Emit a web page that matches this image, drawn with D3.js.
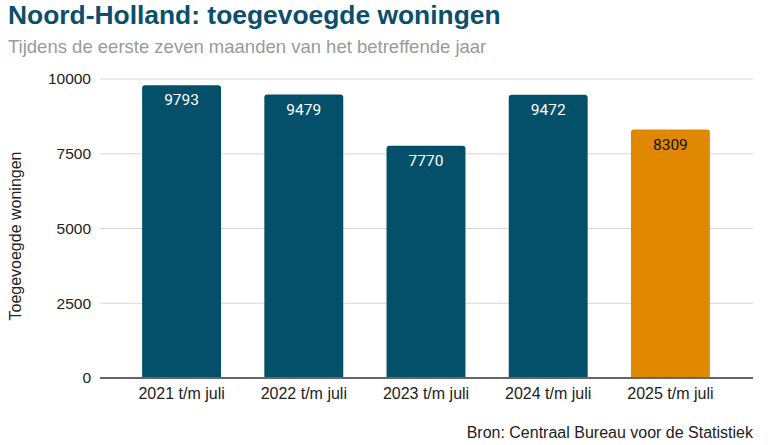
<!DOCTYPE html>
<html>
<head>
<meta charset="utf-8">
<title>Noord-Holland: toegevoegde woningen</title>
<script src="https://cdn.jsdelivr.net/npm/d3@7"></script>
<style>
	body, html{
		margin: 0;
		padding: 0;
		background: #fff;
		overflow: hidden;
	}
	svg text{
		font-family: 'Liberation Sans', Arial, sans-serif;
	}
	.title{
		font-size: 26.4px;
		font-weight: bold;
		fill: #0b4f6c;
	}
	.subtitle{
		font-size: 18.5px;
		fill: #9a9a9a;
	}
	.tick text{
		font-size: 15.5px;
		fill: #222;
	}
	.x-axis .tick text{
		font-size: 16px;
	}
	.value{
		font-family: Roboto, sans-serif !important;
		font-size: 15.5px;
	}
</style>
</head>
<body>
<svg id="chart" width="768" height="445"></svg>
<script>
var categories = ['2021 t/m juli', '2022 t/m juli', '2023 t/m juli', '2024 t/m juli', '2025 t/m juli'],
	values = [9793, 9479, 7770, 9472, 8309],
	barColors = ['#044f69', '#044f69', '#044f69', '#044f69', '#e08900'],
	labelColors = ['#fff', '#fff', '#fff', '#fff', '#111'],
	yTicks = [0, 2500, 5000, 7500, 10000];

var svg = d3.select('#chart'),
	plotLeft = 100,
	plotRight = 753,
	plotTop = 79,
	plotBottom = 378;

var x = d3.scaleBand()
	.domain(categories)
	.range([120.5, 731.5])
	.paddingInner(0.354)
	.paddingOuter(0.177);

var y = d3.scaleLinear()
	.domain([0, 10000])
	.range([plotBottom, plotTop]);

// gridlines
svg.append('g')
	.selectAll('line')
	.data(yTicks.slice(1))
	.enter().append('line')
	.attr('x1', plotLeft)
	.attr('x2', plotRight)
	.attr('y1', function(d){ return y(d); })
	.attr('y2', function(d){ return y(d); })
	.attr('stroke', '#d6d6d6')
	.attr('stroke-width', 1);

// y axis
var yAxis = svg.append('g')
	.attr('transform', 'translate(' + plotLeft + ',0)')
	.call(d3.axisLeft(y).tickValues(yTicks).tickFormat(d3.format('d')).tickSize(0).tickPadding(9));
yAxis.select('.domain').remove();

// bars, rounded top corners
function barPath(d, i){
	var x0 = x(categories[i]),
		w = x.bandwidth(),
		y0 = y(d),
		r = 3;
	return 'M' + x0 + ',' + plotBottom +
		'V' + (y0 + r) +
		'Q' + x0 + ',' + y0 + ' ' + (x0 + r) + ',' + y0 +
		'H' + (x0 + w - r) +
		'Q' + (x0 + w) + ',' + y0 + ' ' + (x0 + w) + ',' + (y0 + r) +
		'V' + plotBottom + 'Z';
}

svg.append('g')
	.selectAll('path')
	.data(values)
	.enter().append('path')
	.attr('d', barPath)
	.attr('fill', function(d, i){ return barColors[i]; });

svg.append('g')
	.selectAll('text')
	.data(values)
	.enter().append('text')
	.attr('class', 'value')
	.attr('x', function(d, i){ return x(categories[i]) + x.bandwidth() / 2; })
	.attr('y', function(d){ return y(d) + 20; })
	.attr('text-anchor', 'middle')
	.attr('fill', function(d, i){ return labelColors[i]; })
	.text(function(d){ return d; });

// x axis
var xAxis = svg.append('g')
	.attr('class', 'x-axis')
	.attr('transform', 'translate(0,' + plotBottom + ')')
	.call(d3.axisBottom(x).tickSize(0).tickPadding(10));
xAxis.select('.domain').remove();
svg.append('line')
	.attr('x1', plotLeft)
	.attr('x2', plotRight)
	.attr('y1', plotBottom)
	.attr('y2', plotBottom)
	.attr('stroke', '#666')
	.attr('stroke-width', 2);

// texts
svg.append('text').attr('class', 'title').attr('x', 8).attr('y', 24)
	.text('Noord-Holland: toegevoegde woningen');
svg.append('text').attr('class', 'subtitle').attr('x', 8).attr('y', 53)
	.text('Tijdens de eerste zeven maanden van het betreffende jaar');
svg.append('text')
	.attr('transform', 'translate(21,236) rotate(-90)')
	.attr('text-anchor', 'middle')
	.attr('font-size', 16)
	.attr('fill', '#222')
	.text('Toegevoegde woningen');
svg.append('text')
	.attr('x', 753)
	.attr('y', 438)
	.attr('text-anchor', 'end')
	.attr('font-size', 16)
	.attr('fill', '#222')
	.text('Bron: Centraal Bureau voor de Statistiek');
</script>
</body>
</html>
